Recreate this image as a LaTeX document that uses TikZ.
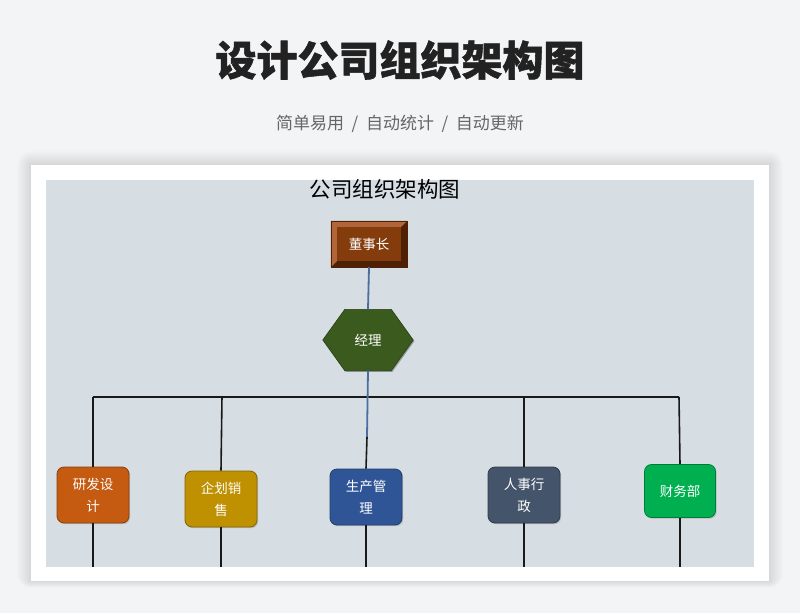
\documentclass[tikz,border=0pt]{standalone}
\usepackage{fontspec}
\setmainfont{Noto Sans CJK SC}[BoldFeatures={FakeBold=1.3}]
\usetikzlibrary{shadows}
\definecolor{pagebg}{HTML}{F3F4F6}
\definecolor{panel}{HTML}{D6DDE3}
\definecolor{subgray}{HTML}{666666}
\definecolor{titleblack}{HTML}{222222}
\definecolor{bluelink}{HTML}{4A6EA0}
\definecolor{brownA}{HTML}{843C0C}
\definecolor{brownLight}{HTML}{B0653A}
\definecolor{brownDark}{HTML}{4E2006}
\definecolor{hexgreen}{HTML}{3A5A1E}
\definecolor{cOrange}{HTML}{C55A11}
\definecolor{cGold}{HTML}{BF9000}
\definecolor{cBlue}{HTML}{2F5597}
\definecolor{cSlate}{HTML}{44546A}
\definecolor{cGreen}{HTML}{00B050}
\tikzset{
  dept/.style={draw=#1!70!black, line width=0.8pt, fill=#1, rounded corners=7pt,
    minimum width=72pt, minimum height=56pt, text=white, align=center,
    font=\fontsize{13.5}{22}\selectfont, inner sep=0pt,
    drop shadow={shadow xshift=1.2pt, shadow yshift=-1.2pt, opacity=0.35}},
  link/.style={draw=black!90, line width=1.6pt},
  bluel/.style={draw=bluelink, line width=1.8pt},
  softshade/.style={fill=black, opacity=0.007},
}
\begin{document}
\begin{tikzpicture}[x=1pt,y=-1pt]
\useasboundingbox (0,0) rectangle (800,613);
\fill[pagebg] (0,0) rectangle (800,613);
% card shadow layers
\foreach \s in {1,2,...,14}{
  \fill[softshade, rounded corners=\s pt] (31-\s,165-\s) rectangle (769+\s,581+0.5*\s);
}
\fill[white] (31,165) rectangle (769,581);
\fill[panel] (46,180) rectangle (754,567);
% titles
\node[font=\fontsize{41}{41}\selectfont\bfseries, text=titleblack] (title) at (400,60) {设计公司组织架构图};
\node[font=\fontsize{17}{17}\selectfont, text=subgray] (sub) at (400,124) {简单易用\ \ /\ \ 自动统计\ \ /\ \ 自动更新};
\node[font=\fontsize{21.5}{22}\selectfont, text=black] (inner) at (385,189) {公司组织架构图};

% chairman bevel box
\node[minimum width=76pt, minimum height=46pt, inner sep=0pt] (dsz) at (369,244) {};
\fill[brownDark] (dsz.north west) rectangle (dsz.south east);
\fill[brownLight] (dsz.north west) -- (dsz.north east) -- ([xshift=-6pt,yshift=-6pt]dsz.north east) -- ([xshift=6pt,yshift=-6pt]dsz.north west) -- ([xshift=6pt,yshift=6pt]dsz.south west) -- (dsz.south west) -- cycle;
\fill[brownA] ([xshift=6pt,yshift=-6pt]dsz.north west) rectangle ([xshift=-6pt,yshift=6pt]dsz.south east);
\draw[brownDark, line width=0.5pt] (dsz.north west) rectangle (dsz.south east);
\node[text=white, font=\fontsize{13.5}{14}\selectfont] (dsztext) at (dsz.center) {董事长};

% manager hexagon
\node[minimum width=90pt, minimum height=61pt, inner sep=0pt] (jl) at (368,340) {};
\fill[black, opacity=0.3] ([xshift=1.2pt,yshift=-1.2pt]jl.west) -- ([xshift=23.2pt,yshift=-1.2pt]jl.north west) -- ([xshift=-20.8pt,yshift=-1.2pt]jl.north east) -- ([xshift=1.2pt,yshift=-1.2pt]jl.east) -- ([xshift=-20.8pt,yshift=-1.2pt]jl.south east) -- ([xshift=23.2pt,yshift=-1.2pt]jl.south west) -- cycle;
\filldraw[fill=hexgreen, draw=hexgreen!70!black, line width=0.6pt] (jl.west) -- ([xshift=22pt]jl.north west) -- ([xshift=-22pt]jl.north east) -- (jl.east) -- ([xshift=-22pt]jl.south east) -- ([xshift=22pt]jl.south west) -- cycle;
\node[text=white, font=\fontsize{13.5}{14}\selectfont] (jltext) at (jl.center) {经理};

% departments
\node[dept=cOrange] (d1) at (93,495) {研发设\\计};
\node[dept=cGold] (d2) at (221,499) {企划销\\售};
\node[dept=cBlue] (d3) at (366,497) {生产管\\理};
\node[dept=cSlate] (d4) at (524,495) {人事行\\政};
\node[dept=cGreen, minimum width=71pt, minimum height=53pt] (d5) at (680,491) {财务部};

% connectors
\coordinate (h1) at (93,397);
\coordinate (h2) at (222,396);
\coordinate (h4) at (524,396);
\coordinate (h5) at (679,397);
\coordinate (bj) at (367,437);
\coordinate (b1) at (93,567);
\coordinate (b2) at (221,567);
\coordinate (b3) at (366,567);
\coordinate (b4) at (524,567);
\coordinate (b5) at (680,567);
\draw[link] (h1) -- (h5);
\draw[link] (h1) -- (d1.north);
\draw[link] (h2) -- (d2.north);
\draw[link] (h4) -- (d4.north);
\draw[link] (h5) -- (d5.north);
\draw[bluel] (dsz.south) -- (jl.north);
\draw[bluel] (jl.south) -- (bj);
\draw[link] (bj) -- (d3.north);
\draw[link] (d1.south) -- (b1);
\draw[link] (d2.south) -- (b2);
\draw[link] (d3.south) -- (b3);
\draw[link] (d4.south) -- (b4);
\draw[link] (d5.south) -- (b5);
\end{tikzpicture}
\end{document}
